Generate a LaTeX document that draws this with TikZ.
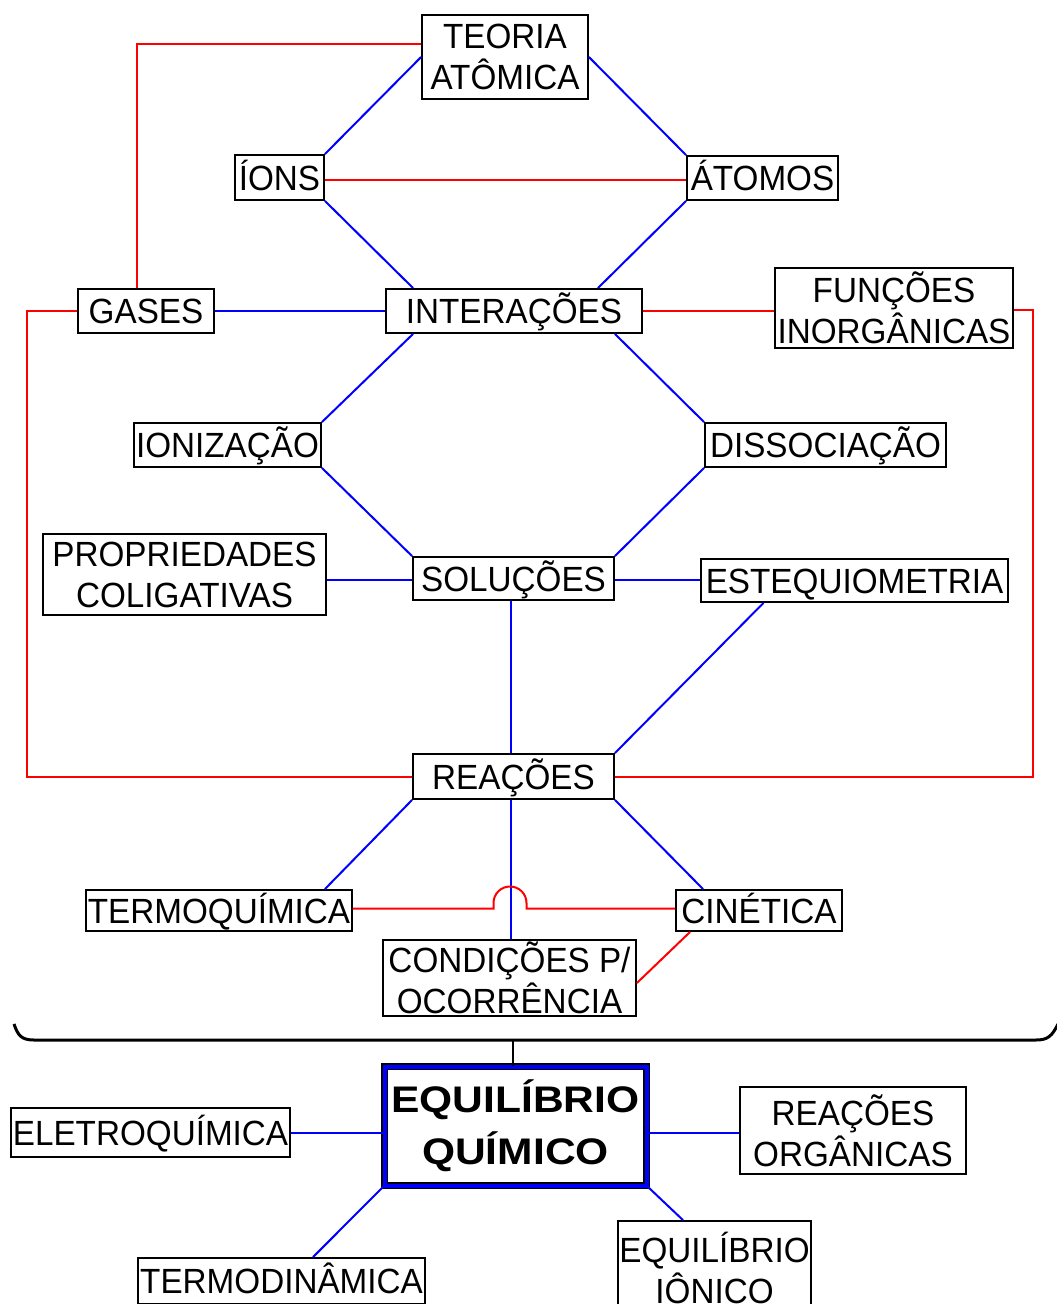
\documentclass[tikz,border=0pt]{standalone}
\usepackage{fontspec}
\setmainfont{Liberation Sans}[FakeStretch=0.95]
\newfontfamily\eqf{Liberation Sans}[FakeStretch=1.15]
\newcommand{\lbl}{\fontsize{35}{41}\selectfont}
\begin{document}
\begin{tikzpicture}[x=1pt,y=-1pt,
  box/.style={draw=black, line width=1.8pt, inner sep=0pt, font=\lbl, fill=white, align=center},
  one/.style={box, text height=25pt, text depth=0pt},
  bl/.style={draw=blue, line width=2pt},
  rd/.style={draw=red, line width=2pt},
  brc/.style={draw=black, line width=3pt}]
\useasboundingbox (0,0) rectangle (1057,1304);
\clip (0,0) rectangle (1057,1304);
\fill[white] (0,0) rectangle (1057,1304);

% nodes
\node[box, minimum width=166pt, minimum height=84pt] (teoria) at (505,57) {TEORIA\\ATÔMICA};
\node[one, minimum width=89pt, minimum height=45pt] (ions) at (279.5,177.5) {ÍONS};
\node[one, minimum width=151pt, minimum height=44pt] (atomos) at (762.5,178) {ÁTOMOS};
\node[one, minimum width=136pt, minimum height=44pt] (gases) at (146,311) {GASES};
\node[one, minimum width=256pt, minimum height=44pt] (inter) at (514,311) {INTERAÇÕES};
\node[box, minimum width=238pt, minimum height=80pt] (funcoes) at (894,308) {FUNÇÕES\\INORGÂNICAS};
\node[one, minimum width=187pt, minimum height=44pt] (ioniz) at (227.5,445) {IONIZAÇÃO};
\node[one, minimum width=241pt, minimum height=44pt] (dissoc) at (825.5,445) {DISSOCIAÇÃO};
\node[box, minimum width=283pt, minimum height=81pt] (propcol) at (184.5,574.5) {PROPRIEDADES\\COLIGATIVAS};
\node[one, minimum width=201pt, minimum height=43pt] (solucoes) at (513.5,578.5) {SOLUÇÕES};
\node[one, minimum width=307pt, minimum height=43pt] (esteq) at (854.5,580.5) {ESTEQUIOMETRIA};
\node[one, minimum width=201pt, minimum height=45pt] (reacoes) at (513.5,776.5) {REAÇÕES};
\node[one, minimum width=266pt, minimum height=41pt] (termoq) at (219,910.5) {TERMOQUÍMICA};
\node[one, minimum width=166pt, minimum height=41pt] (cinetica) at (759,910.5) {CINÉTICA};
\node[box, minimum width=253pt, minimum height=76pt] (condicoes) at (509.5,978) {CONDIÇÕES P/\\OCORRÊNCIA};

\node[draw=black, line width=1.3pt, double=blue, double distance=4pt, fill=white, inner sep=0pt,
      minimum width=262pt, minimum height=119pt, align=center,
      font={\eqf\bfseries\fontsize{37}{52}\selectfont}] (eq) at (515.5,1126) {EQUILÍBRIO\\QUÍMICO};
\node[one, minimum width=279pt, minimum height=49pt] (eletro) at (150.5,1132.5) {ELETROQUÍMICA};
\node[box, minimum width=226pt, minimum height=87pt] (reacorg) at (853,1130.5) {REAÇÕES\\ORGÂNICAS};
\node[one, minimum width=287pt, minimum height=46pt] (termodin) at (281.5,1281) {TERMODINÂMICA};
\node[box, minimum width=193pt, minimum height=94pt] (eqion) at (714.5,1268) {EQUILÍBRIO\\IÔNICO};

% blue connectors
\draw[bl] (teoria.west) -- (ions.north east);
\draw[bl] (teoria.east) -- (atomos.north west);
\draw[bl] (ions.south east) -- ([xshift=28pt]inter.north west);
\draw[bl] (atomos.south west) -- ([xshift=-45pt]inter.north east);
\draw[bl] (gases.east) -- (inter.west);
\draw[bl] ([xshift=28pt]inter.south west) -- (ioniz.north east);
\draw[bl] ([xshift=-28pt]inter.south east) -- (dissoc.north west);
\draw[bl] (ioniz.south east) -- (solucoes.north west);
\draw[bl] (dissoc.south west) -- (solucoes.north east);
\draw[bl] ([yshift=-1.5pt]solucoes.west) -- ([yshift=-1.5pt]solucoes.west -| propcol.east);
\draw[bl] ([yshift=-1.5pt]solucoes.east) -- ([yshift=-1.5pt]solucoes.east -| esteq.west);
\draw[bl] ([xshift=-3pt]solucoes.south) -- ([xshift=-3pt]reacoes.north);
\draw[bl] ([xshift=-91pt]esteq.south) -- (reacoes.north east);
\draw[bl] (reacoes.south west) -- ([xshift=-28pt]termoq.north east);
\draw[bl] (reacoes.south east) -- ([xshift=28pt]cinetica.north west);
\draw[bl] ([xshift=-3pt]reacoes.south) -- ([xshift=-3pt]reacoes.south |- condicoes.north);
\draw[bl] (eletro.east) -- (eletro.east -| eq.west);
\draw[bl] ([yshift=-2.5pt]reacorg.west) -- ([yshift=-2.5pt]reacorg.west -| eq.east);
\draw[bl] (eq.south west) -- ([xshift=31.5pt]termodin.north);
\draw[bl] (eq.south east) -- ([xshift=-31.5pt]eqion.north);

% red connectors
\draw[rd] ([yshift=-2pt]ions.east) -- ([yshift=-2pt]ions.east -| atomos.west);
\draw[rd] ([yshift=13pt]teoria.west) -| ([xshift=-9pt]gases.north);
\draw[rd] (gases.west) -- ++(-50,0) |- (reacoes.west);
\draw[rd] (inter.east) -- (inter.east -| funcoes.west);
\draw[rd] ([yshift=-2pt]funcoes.east) -- ++(19,0) |- (reacoes.east);
\draw[rd] ([yshift=2pt]termoq.east) -- (493.5,908.5) -- (493.5,903)
   arc[start angle=180, end angle=0, radius=16.5pt] -- (526.5,908.5) -- ([yshift=2pt]cinetica.west);
\draw[rd] ([xshift=15pt]cinetica.south west) -- ([yshift=-5pt]condicoes.east);

% brace
\coordinate (bmid) at (513,1040);
\draw[brc] (14,1024) .. controls (18,1036) and (22,1040) .. (34,1040) -- (1036,1040)
   .. controls (1048,1040) and (1052,1036) .. (1058,1024);
\draw[black, line width=2pt] (bmid) -- (bmid |- eq.north);
\end{tikzpicture}
\end{document}
